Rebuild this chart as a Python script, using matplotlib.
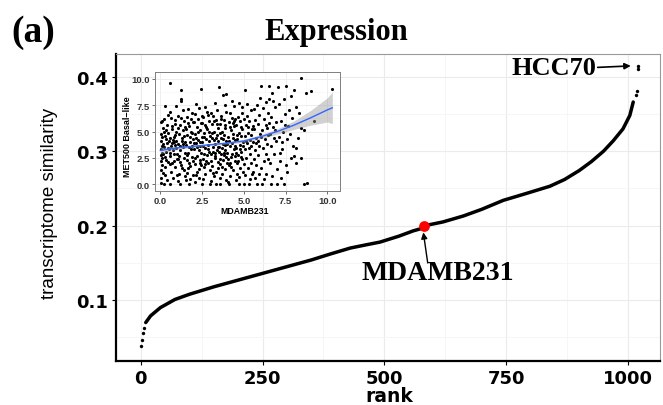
import matplotlib.pyplot as plt
from matplotlib.ticker import MultipleLocator

# main panel: cell lines ranked by transcriptome similarity
rank = [10, 20, 40, 70, 100, 150, 200, 250, 300, 350, 389, 430, 460, 491, 530, 559, 575, 590, 620, 662,
        700, 744, 790, 840, 870, 900, 925, 950, 970, 990, 1004, 1011]
similarity = [0.070, 0.079, 0.090, 0.101, 0.108, 0.118, 0.127, 0.136, 0.145, 0.154, 0.162, 0.170, 0.174,
              0.178, 0.186, 0.193, 0.196, 0.201, 0.205, 0.213, 0.222, 0.234, 0.243, 0.253, 0.262, 0.274,
              0.286, 0.300, 0.314, 0.330, 0.348, 0.366]
tail_rank = [0, 2, 4, 6, 1016, 1018, 1021, 1021]
tail_sim = [0.038, 0.047, 0.056, 0.063, 0.375, 0.381, 0.410, 0.415]
mdamb_rank = 582
mdamb_sim = 0.1995

x_ticks = [0, 250, 500, 750, 1000]
y_ticks = [0.1, 0.2, 0.3, 0.4]

# inset: MDAMB231 vs MET500 basal-like expression
inset_pts = [
    (0.02, 0.1), (0.05, 0.6), (0.03, 1.3), (0.08, 1.8), (0.02, 2.2), (0.1, 2.5), (0.04, 2.8), (0.12, 3.0),
    (0.03, 3.3), (0.07, 3.6), (0.15, 3.8), (0.02, 4.1), (0.09, 4.5), (0.05, 4.8), (0.13, 5.3), (0.04, 5.9),
    (0.2, 6.2), (0.25, 0.9), (0.3, 1.6), (0.28, 2.6), (0.35, 3.1), (0.22, 3.5), (0.4, 3.9), (0.33, 4.3),
    (0.45, 4.9), (0.38, 5.6), (0.3, 7.4), (0.45, 2.1), (0.2, 0.0), (0.42, 0.4), (0.18, 2.9), (0.48, 3.4),
    (0.26, 4.6), (0.36, 5.1), (0.1, 6.0), (0.44, 6.6), (0.16, 1.1), (0.32, 2.3), (0.5, 4.1), (0.24, 5.0),
    (0.55, 9.65), (0.6, 0.0), (0.62, 1.2), (0.7, 2.0), (0.58, 2.7), (0.75, 3.2), (0.66, 3.6), (0.82, 4.0),
    (0.55, 4.4), (0.9, 4.7), (0.72, 5.2), (0.85, 5.7), (0.64, 6.3), (0.95, 7.4), (0.78, 0.6), (0.88, 1.6),
    (0.98, 2.4), (0.6, 3.0), (0.92, 3.4), (0.7, 3.9), (0.8, 4.5), (0.96, 5.0), (0.68, 5.5), (0.57, 1.9),
    (0.83, 2.9), (0.74, 4.2), (0.9, 6.1), (0.6, 6.9), (0.87, 3.7), (0.99, 0.9), (0.52, 3.3), (0.79, 2.2),
    (0.93, 4.1), (1.25, 8.9), (1.25, 8.1), (1.22, 7.85), (1.05, 0.3), (1.1, 1.0), (1.3, 1.5), (1.15, 2.1),
    (1.4, 2.5), (1.02, 2.9), (1.2, 3.2), (1.35, 3.5), (1.08, 3.8), (1.45, 4.0), (1.28, 4.4), (1.12, 4.8),
    (1.38, 5.1), (1.18, 5.6), (1.42, 6.0), (1.05, 6.5), (1.33, 7.0), (1.48, 0.8), (1.22, 1.8), (1.03, 2.4),
    (1.47, 3.0), (1.16, 3.6), (1.31, 4.1), (1.44, 4.6), (1.07, 5.3), (1.26, 6.3), (1.4, 1.3), (1.14, 2.7),
    (1.36, 3.8), (1.49, 5.4), (1.2, 0.0), (1.55, 0.4), (1.7, 0.0), (1.62, 1.1), (1.8, 1.7), (1.58, 2.3),
    (1.9, 2.6), (1.66, 3.0), (1.85, 3.3), (1.52, 3.7), (1.75, 4.0), (1.95, 4.3), (1.6, 4.7), (1.82, 5.0),
    (1.7, 5.5), (1.93, 5.9), (1.57, 6.4), (1.88, 6.8), (1.65, 7.1), (1.98, 0.9), (1.72, 2.0), (1.6, 2.8),
    (1.92, 3.6), (1.78, 4.5), (1.53, 5.2), (1.84, 6.2), (1.68, 1.5), (1.96, 2.2), (1.74, 3.5), (1.9, 4.9),
    (1.63, 5.8), (1.8, 0.5), (1.99, 3.9), (2.05, 0.2), (2.15, 0.9), (2.3, 1.4), (2.1, 1.9), (2.4, 2.3),
    (2.2, 2.7), (2.45, 3.0), (2.02, 3.3), (2.35, 3.6), (2.12, 3.9), (2.28, 4.2), (2.48, 4.5), (2.06, 4.8),
    (2.38, 5.1), (2.18, 5.4), (2.42, 5.8), (2.25, 6.2), (2.1, 6.7), (2.45, 9.05), (2.3, 7.2), (2.16, 7.6),
    (2.5, 0.0), (2.22, 1.2), (2.44, 1.8), (2.08, 2.5), (2.33, 3.2), (2.4, 4.0), (2.14, 4.4), (2.27, 5.0),
    (2.47, 6.5), (2.2, 3.5), (2.36, 2.0), (2.03, 5.9), (2.32, 0.6), (2.55, 0.5), (2.7, 1.0), (2.62, 1.6),
    (2.85, 2.0), (2.58, 2.4), (2.78, 2.8), (2.92, 3.1), (2.65, 3.4), (2.88, 3.7), (2.52, 4.0), (2.74, 4.3),
    (2.96, 4.6), (2.6, 4.9), (2.82, 5.2), (2.68, 5.6), (2.9, 6.0), (2.56, 6.4), (2.8, 6.9), (2.66, 7.3),
    (3.0, 0.0), (2.98, 1.3), (2.72, 2.2), (2.86, 3.3), (2.54, 3.6), (2.94, 4.1), (2.64, 4.5), (2.76, 5.4),
    (2.5, 5.8), (2.84, 6.6), (2.7, 1.9), (2.6, 2.9), (2.9, 5.0), (3.05, 0.3), (3.2, 0.8), (3.35, 1.2),
    (3.1, 1.7), (3.45, 2.1), (3.25, 2.5), (3.02, 2.9), (3.4, 3.2), (3.15, 3.5), (3.3, 3.8), (3.48, 4.1),
    (3.08, 4.4), (3.38, 4.7), (3.22, 5.0), (3.44, 5.3), (3.12, 5.7), (3.32, 6.1), (3.18, 6.5), (3.42, 7.0),
    (3.5, 9.25), (3.28, 7.7), (3.36, 0.0), (3.46, 1.5), (3.06, 2.2), (3.26, 2.7), (3.14, 3.1), (3.46, 3.5),
    (3.2, 4.2), (3.34, 4.4), (3.1, 4.9), (3.4, 5.7), (3.24, 6.0), (3.03, 6.8), (3.3, 3.0), (3.16, 1.1),
    (3.55, 0.6), (3.6, 0.0), (3.7, 1.0), (3.85, 1.4), (3.58, 1.9), (3.78, 2.3), (3.92, 2.6), (3.64, 2.9),
    (3.88, 3.2), (3.52, 3.5), (3.74, 3.8), (3.96, 4.1), (3.62, 4.4), (3.84, 4.7), (3.68, 5.0), (3.9, 5.3),
    (3.56, 5.7), (3.8, 6.1), (3.66, 6.5), (3.94, 6.9), (3.75, 8.5), (3.95, 8.6), (3.86, 7.5), (3.72, 1.6),
    (3.98, 2.0), (3.6, 2.4), (3.82, 2.8), (3.54, 3.1), (3.7, 3.4), (3.9, 3.7), (3.76, 4.3), (3.58, 4.9),
    (3.88, 5.6), (3.64, 6.2), (3.92, 0.4), (3.8, 3.0), (4.05, 0.2), (4.2, 0.8), (4.35, 1.3), (4.1, 1.8),
    (4.45, 2.2), (4.25, 2.6), (4.02, 3.0), (4.4, 3.3), (4.15, 3.6), (4.3, 3.9), (4.48, 4.2), (4.08, 4.5),
    (4.38, 4.8), (4.22, 5.1), (4.44, 5.5), (4.12, 5.9), (4.32, 6.3), (4.18, 6.8), (4.3, 7.9), (4.42, 7.4),
    (4.06, 2.4), (4.28, 2.9), (4.46, 3.6), (4.14, 4.1), (4.36, 4.4), (4.2, 5.4), (4.4, 6.0), (4.1, 0.0),
    (4.26, 1.6), (4.48, 2.7), (4.0, 3.8), (4.34, 5.8), (4.16, 2.0), (4.55, 0.4), (4.7, 0.0), (4.62, 1.0),
    (4.8, 1.5), (4.58, 2.0), (4.9, 2.4), (4.66, 2.8), (4.85, 3.1), (4.52, 3.4), (4.75, 3.7), (4.95, 4.0),
    (4.6, 4.3), (4.82, 4.6), (4.7, 4.9), (4.92, 5.2), (4.56, 5.6), (4.78, 6.0), (4.64, 6.4), (4.88, 6.8),
    (4.72, 7.7), (4.98, 1.2), (4.68, 2.2), (4.86, 2.6), (4.54, 3.0), (4.76, 3.3), (4.94, 3.6), (4.62, 4.7),
    (4.84, 5.4), (4.5, 6.2), (4.9, 7.3), (4.74, 0.7), (5.0, 0.0), (5.05, 8.9), (5.3, 0.0), (5.1, 0.9),
    (5.25, 1.5), (5.4, 2.0), (5.15, 2.5), (5.35, 2.9), (5.05, 3.3), (5.45, 3.6), (5.2, 3.9), (5.38, 4.2),
    (5.08, 4.6), (5.28, 4.9), (5.48, 5.2), (5.12, 5.6), (5.32, 6.0), (5.22, 6.5), (5.42, 7.0), (5.18, 7.6),
    (5.46, 1.0), (5.02, 1.9), (5.3, 3.4), (5.14, 4.1), (5.4, 4.7), (5.24, 5.4), (5.04, 6.2), (5.36, 0.5),
    (5.55, 1.2), (5.8, 0.0), (5.7, 1.8), (5.6, 2.4), (5.85, 2.8), (5.65, 3.2), (5.9, 3.6), (5.52, 4.0),
    (5.75, 4.4), (5.95, 4.8), (5.62, 5.2), (5.82, 5.7), (5.68, 6.1), (5.92, 6.6), (5.58, 7.1), (5.78, 7.5),
    (5.98, 8.2), (5.88, 1.0), (5.72, 3.9), (5.54, 5.5), (5.86, 4.1), (5.66, 0.6), (6.0, 9.3), (6.1, 0.0),
    (6.05, 1.5), (6.2, 2.2), (6.35, 2.9), (6.15, 3.4), (6.4, 3.8), (6.25, 4.3), (6.45, 4.7), (6.08, 5.1),
    (6.3, 5.6), (6.2, 6.2), (6.42, 6.8), (6.12, 7.2), (6.35, 7.8), (6.48, 8.1), (6.3, 1.0), (6.45, 2.4),
    (6.02, 4.5), (6.38, 5.3), (6.22, 0.5), (6.5, 9.3), (6.6, 0.0), (6.7, 0.8), (6.55, 2.0), (6.8, 2.9),
    (6.65, 3.6), (6.9, 4.1), (6.58, 4.8), (6.75, 5.4), (6.95, 5.9), (6.62, 6.4), (6.85, 7.3), (6.72, 7.9),
    (6.98, 1.4), (6.88, 5.1), (6.52, 5.8), (6.78, 4.4), (6.68, 8.7), (7.0, 0.0), (7.05, 9.2), (7.1, 7.6),
    (7.2, 0.6), (7.15, 2.2), (7.3, 3.3), (7.08, 4.5), (7.35, 5.0), (7.25, 6.0), (7.45, 6.7), (7.4, 8.1),
    (7.4, 0.0), (7.28, 4.0), (7.48, 5.6), (7.18, 3.0), (7.5, 9.3), (7.55, 1.8), (7.6, 4.3), (7.6, 1.2),
    (7.7, 7.0), (7.8, 8.4), (7.8, 2.5), (7.9, 6.3), (7.95, 3.6), (7.65, 5.5), (7.75, 4.8), (8.0, 8.9),
    (8.0, 2.7), (8.1, 2.0), (8.1, 3.4), (8.4, 2.5), (8.4, 5.3), (8.6, 5.1), (8.1, 7.3), (8.3, 6.8),
    (8.4, 10.1), (8.7, 8.7), (9.0, 8.8), (8.6, 0.0), (8.8, 0.15), (9.2, 6.0), (10.3, 9.05), (8.25, 4.4),
]
inset_x = [p[0] for p in inset_pts]
inset_y = [p[1] for p in inset_pts]

# loess fit and its confidence band
fit_x = [0, 1, 2, 3, 4, 5, 6, 7, 8, 9, 10, 10.3]
fit_y = [3.2, 3.45, 3.6, 3.75, 3.9, 4.1, 4.5, 5.0, 5.6, 6.3, 7.05, 7.25]
fit_lo = [2.9, 3.3, 3.5, 3.65, 3.8, 3.95, 4.3, 4.75, 5.2, 5.6, 5.9, 5.75]
fit_hi = [3.5, 3.6, 3.7, 3.85, 4.0, 4.25, 4.7, 5.25, 6.0, 7.0, 8.2, 8.75]
inset_ticks = [0, 2.5, 5, 7.5, 10]

fig = plt.figure(figsize=(6.63, 4.06), dpi=100)
ax = fig.add_axes([0.175, 0.1084, 0.8205, 0.7562])

ax.plot(rank, similarity, color='black', lw=2.5, solid_capstyle='round', solid_joinstyle='round', zorder=3)
ax.scatter(tail_rank, tail_sim, s=6, color='black', linewidths=0, zorder=3)
ax.scatter([mdamb_rank], [mdamb_sim], s=60, color='red', linewidths=0, zorder=5)

ax.set_xlim(-51, 1066)
ax.set_ylim(0.0184, 0.4305)
ax.set_xticks(x_ticks, [str(t) for t in x_ticks], fontsize=13, fontweight='bold')
ax.set_yticks(y_ticks, [str(t) for t in y_ticks], fontsize=13, fontweight='bold')
ax.xaxis.set_minor_locator(MultipleLocator(125))
ax.yaxis.set_minor_locator(MultipleLocator(0.05))
ax.grid(which='major', color='#EBEBEB', lw=0.8)
ax.grid(which='minor', color='#F5F5F5', lw=0.6)
ax.set_axisbelow(True)
ax.tick_params(which='major', length=3, width=0.8, pad=3)
ax.tick_params(which='minor', length=0)
for s in ['left', 'bottom']:
    ax.spines[s].set_color('black')
    ax.spines[s].set_linewidth(1.6)
for s in ['top', 'right']:
    ax.spines[s].set_color('#999999')
    ax.spines[s].set_linewidth(0.8)

serif = dict(family='Liberation Serif', fontweight='bold')
ax.text(936, 0.412, 'HCC70', ha='right', va='center', fontsize=19, **serif)
ax.annotate('', xy=(1006, 0.4145), xytext=(938, 0.4125),
            arrowprops=dict(arrowstyle='-|>', color='black', lw=1.2, mutation_scale=9, shrinkA=0, shrinkB=0))
ax.text(610, 0.1378, 'MDAMB231', ha='center', va='center', fontsize=20, **serif)
ax.annotate('', xy=(580, 0.191), xytext=(589, 0.150),
            arrowprops=dict(arrowstyle='-|>', color='black', lw=1.0, mutation_scale=9, shrinkA=0, shrinkB=0))

fig.text(0.507, 0.919, 'Expression', ha='center', va='center', fontsize=22, **serif)
fig.text(0.05, 0.919, '(a)', ha='center', va='center', fontsize=27, **serif)
fig.text(0.0754, 0.4988, 'transcriptome similarity', rotation=90, ha='center', va='center',
         fontsize=13.5, family='Liberation Sans')
fig.text(0.5867, 0.0222, 'rank', ha='center', va='center', fontsize=13.5, fontweight='bold')

# inset scatter
axin = fig.add_axes([0.2338, 0.5278, 0.2790, 0.2916])
axin.set_facecolor('white')
axin.scatter(inset_x, inset_y, s=5, color='black', linewidths=0, zorder=3)
axin.fill_between(fit_x, fit_lo, fit_hi, color='#999999', alpha=0.45, linewidth=0, zorder=4)
axin.plot(fit_x, fit_y, color='#3366FF', lw=1.0, zorder=5)
axin.set_xlim(-0.32, 10.76)
axin.set_ylim(-0.62, 10.62)
tick_lbls = ['%.1f' % t for t in inset_ticks]
axin.set_xticks(inset_ticks, tick_lbls, fontsize=6.8, fontweight='bold', family='Liberation Sans')
axin.set_yticks(inset_ticks, tick_lbls, fontsize=6.8, fontweight='bold', family='Liberation Sans')
axin.xaxis.set_minor_locator(MultipleLocator(1.25))
axin.yaxis.set_minor_locator(MultipleLocator(1.25))
axin.grid(which='major', color='#EBEBEB', lw=0.6)
axin.grid(which='minor', color='#F5F5F5', lw=0.4)
axin.set_axisbelow(True)
axin.tick_params(which='major', length=2, width=0.5, pad=1.5, colors='#333333')
axin.tick_params(which='minor', length=0)
for s in axin.spines.values():
    s.set_color('#7F7F7F')
    s.set_linewidth(0.7)
axin.text(0.486, -0.171, 'MDAMB231', transform=axin.transAxes, ha='center', va='center',
          fontsize=6.3, fontweight='bold', family='Liberation Sans')
axin.text(-0.151, 0.465, 'MET500 Basal\u2212like', transform=axin.transAxes, rotation=90,
          ha='center', va='center', fontsize=6.5, fontweight='bold', family='Liberation Sans')

fig.savefig('out.png', dpi=100)
